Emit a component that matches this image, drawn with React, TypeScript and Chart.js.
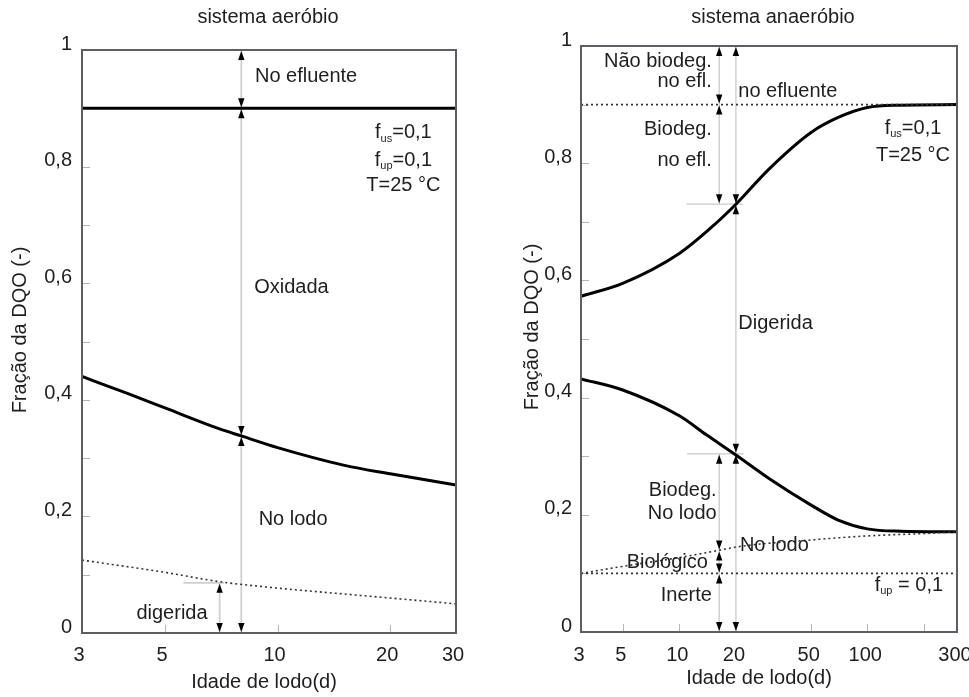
import React, { useEffect, useRef } from "react";
import { Chart, registerables } from "chart.js";

Chart.register(...registerables);

const FONT = '"Liberation Sans", Arial, Helvetica, sans-serif';
const FS = 20;
const TEXT_COLOR = "#1e1e1e";

// ---- shared y axis ----
const Y_TICKS = [0, 0.1, 0.2, 0.3, 0.4, 0.5, 0.6, 0.7, 0.8, 0.9, 1];
const Y_LABELS = ["0", "", "0,2", "", "0,4", "", "0,6", "", "0,8", "", "1"];

// ---- aerobic panel ----
const AER_X_TICKS = [3, 5, 10, 20, 30];
const AER_X_LABELS = ["3", "5", "10", "20", "30"];
const AER_X_INNER = [5, 10, 20];

const AER_EFF_X = [3, 30];
const AER_EFF_Y = [0.9, 0.9];
const AER_SLUDGE_X = [3, 4, 5, 7, 8, 10, 15, 20, 30];
const AER_SLUDGE_Y = [0.44, 0.41, 0.386, 0.35, 0.338, 0.318, 0.288, 0.273, 0.254];
const AER_DIG_X = [3, 5, 7, 10, 15, 20, 30];
const AER_DIG_Y = [0.125, 0.104, 0.088, 0.077, 0.067, 0.06, 0.05];

const AER_ARROWS = [
  { x: 8, y0: 0.9, y1: 1 },
  { x: 8, y0: 0.338, y1: 0.9 },
  { x: 8, y0: 0, y1: 0.338 },
  { x: 7, y0: 0, y1: 0.086 },
];
const AER_HGUIDES = [{ y: 0.086, x0: 5.6, x1: 7.2 }];
const AER_TEXTS = [
  { t: "No efluente", x: 8.7, y: 0.955, a: "left" },
  { t: "f_{us}=0,1", x: 21.7, y: 0.858, a: "center" },
  { t: "f_{up}=0,1", x: 21.7, y: 0.811, a: "center" },
  { t: "T=25 °C", x: 21.7, y: 0.767, a: "center" },
  { t: "Oxidada", x: 8.66, y: 0.593, a: "left" },
  { t: "No lodo", x: 8.9, y: 0.194, a: "left" },
  { t: "digerida", x: 6.5, y: 0.034, a: "right" },
];

// ---- anaerobic panel ----
const ANA_X_TICKS = [3, 5, 10, 20, 50, 100, 300];
const ANA_X_LABELS = ["3", "5", "10", "20", "50", "100", "300"];
const ANA_X_INNER = [5, 10, 20, 50, 100, 200];

const ANA_UP_X = [3, 5, 10, 15, 20, 30, 50, 70, 100, 150, 300];
const ANA_UP_Y = [0.573, 0.595, 0.646, 0.692, 0.73, 0.79, 0.852, 0.878, 0.895, 0.899, 0.9];
const ANA_LOW_X = [3, 5, 10, 14, 20, 30, 50, 70, 100, 150, 300];
const ANA_LOW_Y = [0.432, 0.413, 0.369, 0.336, 0.302, 0.262, 0.217, 0.191, 0.176, 0.172, 0.171];
const ANA_BIO_X = [3, 5, 10, 16, 21, 50, 100, 200, 300];
const ANA_BIO_Y = [0.1, 0.112, 0.127, 0.139, 0.146, 0.157, 0.164, 0.168, 0.171];
const ANA_EFF_X = [3, 300];
const ANA_EFF_Y = [0.9, 0.9];
const ANA_INERT_X = [3, 300];
const ANA_INERT_Y = [0.1, 0.1];

const ANA_ARROWS = [
  { x: 20, y0: 0.73, y1: 1 },
  { x: 20, y0: 0.304, y1: 0.73 },
  { x: 20, y0: 0, y1: 0.304 },
  { x: 16.3, y0: 0.9, y1: 1 },
  { x: 16.3, y0: 0.73, y1: 0.9 },
  { x: 16.3, y0: 0.139, y1: 0.304 },
  { x: 16.3, y0: 0.1, y1: 0.139 },
  { x: 16.3, y0: 0, y1: 0.1 },
];
const ANA_HGUIDES = [
  { y: 0.73, x0: 10.9, x1: 21.8 },
  { y: 0.304, x0: 11, x1: 22 },
];
const ANA_TEXTS = [
  { t: "Não biodeg.", x: 14.9, y: 0.974, a: "right" },
  { t: "no efl.", x: 14.9, y: 0.939, a: "right" },
  { t: "no efluente", x: 20.6, y: 0.923, a: "left" },
  { t: "Biodeg.", x: 14.9, y: 0.857, a: "right" },
  { t: "no efl.", x: 14.9, y: 0.805, a: "right" },
  { t: "f_{us}=0,1", x: 175, y: 0.86, a: "center" },
  { t: "T=25 °C", x: 175, y: 0.814, a: "center" },
  { t: "Digerida", x: 20.6, y: 0.527, a: "left" },
  { t: "Biodeg.", x: 15.8, y: 0.242, a: "right" },
  { t: "No lodo", x: 15.8, y: 0.203, a: "right" },
  { t: "No lodo", x: 21, y: 0.148, a: "left" },
  { t: "Biológico", x: 14.2, y: 0.118, a: "right" },
  { t: "Inerte", x: 14.9, y: 0.063, a: "right" },
  { t: "f_{up} = 0,1", x: 253, y: 0.08, a: "right" },
];

const pts = (xs: number[], ys: number[]) => xs.map((x, i) => ({ x, y: ys[i] }));

const solid = (xs: number[], ys: number[]) => ({
  data: pts(xs, ys),
  borderColor: "#000",
  borderWidth: 3,
  pointRadius: 0,
  cubicInterpolationMode: "monotone",
  fill: false,
});
const dotted = (xs: number[], ys: number[]) => ({
  data: pts(xs, ys),
  borderColor: "#333",
  borderWidth: 1.6,
  borderDash: [2, 3],
  pointRadius: 0,
  cubicInterpolationMode: "monotone",
  fill: false,
});

type Cfg = {
  left: number;
  width: number;
  height: number;
  area: { left: number; top: number; right: number; bottom: number };
  xMin: number;
  xMax: number;
  xTicks: number[];
  xLabels: string[];
  xInner: number[];
  xLabelOffset: number;
  xPad: number;
  yPad: number;
  datasets: any[];
  arrows: { x: number; y0: number; y1: number }[];
  hguides: { y: number; x0: number; x1: number }[];
  texts: { t: string; x: number; y: number; a: string }[];
  title: string;
  titleX: number;
  xTitleX: number;
  xTitleY: number;
  yTitleX: number;
  yTitleY: number;
  guideColor: string;
  guideWidth: number;
};

function drawRich(ctx: CanvasRenderingContext2D, text: string, x: number, y: number, align: string) {
  const parts: { s: string; sub: boolean }[] = [];
  const re = /_\{([^}]*)\}/g;
  let last = 0;
  let m: RegExpExecArray | null;
  while ((m = re.exec(text))) {
    if (m.index > last) parts.push({ s: text.slice(last, m.index), sub: false });
    parts.push({ s: m[1], sub: true });
    last = m.index + m[0].length;
  }
  if (last < text.length) parts.push({ s: text.slice(last), sub: false });
  const big = `${FS}px ${FONT}`;
  const small = `${Math.round(FS * 0.56)}px ${FONT}`;
  let total = 0;
  const widths = parts.map((p) => {
    ctx.font = p.sub ? small : big;
    const w = ctx.measureText(p.s).width;
    total += w;
    return w;
  });
  let cx = align === "center" ? x - total / 2 : align === "right" ? x - total : x;
  ctx.textAlign = "left";
  ctx.textBaseline = "middle";
  parts.forEach((p, i) => {
    ctx.font = p.sub ? small : big;
    ctx.fillText(p.s, cx, p.sub ? y + 6 : y);
    cx += widths[i];
  });
}

function arrowHead(ctx: CanvasRenderingContext2D, x: number, y: number, dir: number) {
  // dir = -1 pointing up (tip at y), +1 pointing down
  const h = 9;
  const w = 3.2;
  ctx.beginPath();
  ctx.moveTo(x, y);
  ctx.lineTo(x - w, y - dir * h);
  ctx.lineTo(x + w, y - dir * h);
  ctx.closePath();
  ctx.fill();
}

function Panel({ cfg }: { cfg: Cfg }) {
  const ref = useRef<HTMLCanvasElement>(null);
  useEffect(() => {
    const canvas = ref.current!;
    const overlay = {
      id: "overlay",
      beforeDatasetsDraw(chart: any) {
        const ctx = chart.ctx as CanvasRenderingContext2D;
        const xs = chart.scales.x;
        const ys = chart.scales.y;
        const a = chart.chartArea;
        ctx.save();
        // inner tick marks
        ctx.strokeStyle = "#b5b5b5";
        ctx.lineWidth = 1;
        Y_TICKS.forEach((v) => {
          if (v === 0 || v === 1) return;
          const py = Math.round(ys.getPixelForValue(v)) + 0.5;
          ctx.beginPath();
          ctx.moveTo(a.left, py);
          ctx.lineTo(a.left + 8, py);
          ctx.stroke();
        });
        cfg.xInner.forEach((v) => {
          const px = Math.round(xs.getPixelForValue(v)) + 0.5;
          ctx.beginPath();
          ctx.moveTo(px, a.bottom);
          ctx.lineTo(px, a.bottom - 8);
          ctx.stroke();
        });
        // guides
        ctx.strokeStyle = cfg.guideColor;
        ctx.lineWidth = cfg.guideWidth;
        cfg.hguides.forEach((g) => {
          const py = ys.getPixelForValue(g.y);
          ctx.beginPath();
          ctx.moveTo(xs.getPixelForValue(g.x0), py);
          ctx.lineTo(xs.getPixelForValue(g.x1), py);
          ctx.stroke();
        });
        cfg.arrows.forEach((ar) => {
          const px = xs.getPixelForValue(ar.x);
          ctx.beginPath();
          ctx.moveTo(px, ys.getPixelForValue(ar.y0));
          ctx.lineTo(px, ys.getPixelForValue(ar.y1));
          ctx.stroke();
        });
        ctx.restore();
      },
      afterDatasetsDraw(chart: any) {
        const ctx = chart.ctx as CanvasRenderingContext2D;
        const xs = chart.scales.x;
        const ys = chart.scales.y;
        const a = chart.chartArea;
        ctx.save();
        // frame
        ctx.strokeStyle = "#5a5f66";
        ctx.lineWidth = 2;
        ctx.strokeRect(a.left, a.top, a.right - a.left, a.bottom - a.top);
        // arrow heads
        ctx.fillStyle = "#000";
        cfg.arrows.forEach((ar) => {
          const px = xs.getPixelForValue(ar.x);
          const pTop = ys.getPixelForValue(ar.y1);
          const pBot = ys.getPixelForValue(ar.y0);
          arrowHead(ctx, px, pTop + 1, -1);
          arrowHead(ctx, px, pBot - 1, 1);
        });
        // texts
        ctx.fillStyle = TEXT_COLOR;
        cfg.texts.forEach((t) => {
          drawRich(ctx, t.t, xs.getPixelForValue(t.x), ys.getPixelForValue(t.y), t.a);
        });
        // titles
        ctx.font = `${FS}px ${FONT}`;
        ctx.textAlign = "center";
        ctx.textBaseline = "middle";
        ctx.fillText(cfg.title, cfg.titleX, 17);
        ctx.fillText("Idade de lodo(d)", cfg.xTitleX, cfg.xTitleY);
        ctx.save();
        ctx.translate(cfg.yTitleX, cfg.yTitleY);
        ctx.rotate(-Math.PI / 2);
        ctx.fillText("Fração da DQO (-)", 0, 0);
        ctx.restore();
        ctx.restore();
      },
    };
    const chart = new Chart(canvas, {
      type: "line",
      data: { datasets: cfg.datasets },
      options: {
        animation: false,
        responsive: false,
        maintainAspectRatio: false,
        layout: {
          padding: { top: cfg.area.top, right: cfg.width - cfg.area.right, bottom: 0, left: 0 },
        },
        plugins: {
          legend: { display: false },
          title: { display: false },
          tooltip: { enabled: false },
        },
        scales: {
          x: {
            type: "logarithmic",
            min: cfg.xMin,
            max: cfg.xMax,
            grid: { display: false, drawTicks: false },
            border: { display: false },
            afterBuildTicks: (s: any) => {
              s.ticks = cfg.xTicks.map((v) => ({ value: v }));
            },
            afterFit: (s: any) => {
              s.height = cfg.height - cfg.area.bottom;
              s.paddingLeft = 0;
              s.paddingRight = 0;
            },
            ticks: {
              autoSkip: false,
              maxRotation: 0,
              minRotation: 0,
              padding: cfg.xPad,
              labelOffset: cfg.xLabelOffset,
              color: TEXT_COLOR,
              font: { family: FONT, size: FS },
              callback: (_v: any, i: number) => cfg.xLabels[i],
            },
          },
          y: {
            type: "linear",
            min: 0,
            max: 1,
            grid: { display: false, drawTicks: false },
            border: { display: false },
            afterBuildTicks: (s: any) => {
              s.ticks = Y_TICKS.map((v) => ({ value: v }));
            },
            afterFit: (s: any) => {
              s.width = cfg.area.left;
              s.paddingTop = 0;
              s.paddingBottom = 0;
            },
            ticks: {
              autoSkip: false,
              padding: cfg.yPad,
              labelOffset: -6,
              color: TEXT_COLOR,
              font: { family: FONT, size: FS },
              callback: (_v: any, i: number) => Y_LABELS[i],
            },
          },
        },
      } as any,
      plugins: [overlay],
    });
    return () => chart.destroy();
  }, []);
  return (
    <canvas
      ref={ref}
      width={cfg.width}
      height={cfg.height}
      style={{ position: "absolute", left: cfg.left, top: 0, width: cfg.width, height: cfg.height }}
    />
  );
}

const AEROBIC: Cfg = {
  left: 0,
  width: 490,
  height: 697,
  area: { left: 82, top: 50, right: 456, bottom: 633 },
  xMin: 3,
  xMax: 30,
  xTicks: AER_X_TICKS,
  xLabels: AER_X_LABELS,
  xInner: AER_X_INNER,
  xLabelOffset: -3,
  xPad: 10,
  yPad: 10,
  datasets: [
    solid(AER_EFF_X, AER_EFF_Y),
    solid(AER_SLUDGE_X, AER_SLUDGE_Y),
    dotted(AER_DIG_X, AER_DIG_Y),
  ],
  arrows: AER_ARROWS,
  hguides: AER_HGUIDES,
  texts: AER_TEXTS,
  title: "sistema aeróbio",
  titleX: 268,
  xTitleX: 264,
  xTitleY: 682,
  yTitleX: 20,
  yTitleY: 330,
  guideColor: "#cfcfcf",
  guideWidth: 1.8,
};

const ANAEROBIC: Cfg = {
  left: 490,
  width: 479,
  height: 697,
  area: { left: 91, top: 46, right: 467, bottom: 632 },
  xMin: 3,
  xMax: 300,
  xTicks: ANA_X_TICKS,
  xLabels: ANA_X_LABELS,
  xInner: ANA_X_INNER,
  xLabelOffset: -2,
  xPad: 11,
  yPad: 9,
  datasets: [
    dotted(ANA_EFF_X, ANA_EFF_Y),
    dotted(ANA_INERT_X, ANA_INERT_Y),
    dotted(ANA_BIO_X, ANA_BIO_Y),
    solid(ANA_UP_X, ANA_UP_Y),
    solid(ANA_LOW_X, ANA_LOW_Y),
  ],
  arrows: ANA_ARROWS,
  hguides: ANA_HGUIDES,
  texts: ANA_TEXTS,
  title: "sistema anaeróbio",
  titleX: 283,
  xTitleX: 269,
  xTitleY: 678,
  yTitleX: 42,
  yTitleY: 327,
  guideColor: "#c9c9c9",
  guideWidth: 1.3,
};

export default function App() {
  return (
    <div style={{ position: "absolute", left: 0, top: 0, width: 969, height: 697, background: "#fff", overflow: "hidden" }}>
      <Panel cfg={AEROBIC} />
      <Panel cfg={ANAEROBIC} />
    </div>
  );
}
